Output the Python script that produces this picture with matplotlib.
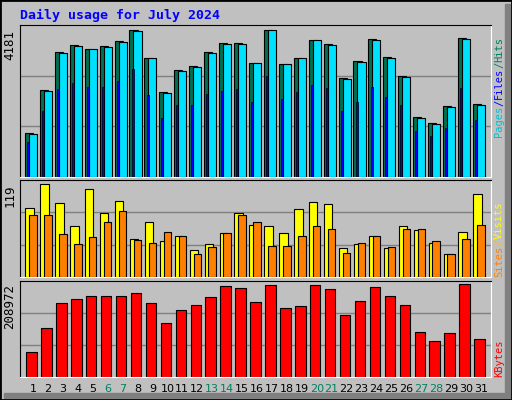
import matplotlib
matplotlib.use("Agg")
import matplotlib.pyplot as plt
import numpy as np

days = np.arange(1, 32)
hits = [1258, 2478, 3557, 3765, 3642, 3727, 3869, 4181, 3387, 2422, 3046, 3159, 3557, 3812, 3812, 3245,
        4181, 3216, 3387, 3897, 3784, 2819, 3301, 3926, 3415, 2876, 1712, 1542, 2024, 3954, 2081]
files = [1230, 2450, 3530, 3735, 3642, 3700, 3840, 4150, 3387, 2395, 3020, 3130, 3530, 3785, 3785, 3245,
         4181, 3216, 3387, 3897, 3755, 2790, 3275, 3897, 3390, 2850, 1685, 1515, 1996, 3925, 2055]
pages = [1003, 1882, 2507, 2677, 2563, 2563, 2734, 3074, 2336, 1684, 2053, 2053, 2365, 2450, 2507, 2138,
         2876, 2223, 2422, 2620, 2535, 1882, 2138, 2563, 2280, 2053, 1315, 1173, 1400, 2535, 1627]
sites = [89, 119, 95, 66, 113, 82, 97, 49, 70, 46, 52, 35, 42, 56, 82, 67,
         66, 57, 87, 96, 93, 37, 42, 52, 37, 66, 60, 44, 30, 58, 106]
visits = [80, 79, 55, 42, 51, 71, 84, 47, 44, 58, 53, 29, 39, 57, 80, 70,
          40, 40, 52, 66, 62, 31, 43, 53, 39, 62, 62, 46, 29, 49, 67]
kbytes = [55675, 110586, 167788, 176940, 183804, 183804, 183804, 190668, 167788, 122026, 151770,
          163213, 181516, 204396, 199820, 170076, 206684, 156346, 160922, 206684, 197532, 140330,
          172364, 202108, 183804, 163213, 101435, 80843, 99147, 208972, 85419]
weekend = [6, 7, 13, 14, 20, 21, 27, 28]

W, H = 512, 400
BG = "#C0C0C0"
MONO = "DejaVu Sans Mono"
fig = plt.figure(figsize=(W / 100, H / 100), dpi=100, facecolor=BG)
# bevelled frame
fig.patches.append(plt.Rectangle((505 / W, 4 / H), 5 / W, 392 / H, transform=fig.transFigure,
                                 color="#808080"))
fig.patches.append(plt.Rectangle((4 / W, 2 / H), 506 / W, 5 / H, transform=fig.transFigure,
                                 color="#808080"))
fig.patches.append(plt.Rectangle((0, 0), 1, 1, transform=fig.transFigure, fill=False,
                                 edgecolor="black", linewidth=2))


def panel(top, bottom):
    ax = fig.add_axes([20 / W, 1 - bottom / H, 471 / W, (bottom - top) / H])
    ax.set_facecolor(BG)
    ax.set_xlim(0.13, 31.67)
    ax.set_xticks([])
    ax.set_yticks([])
    for s in ("left", "top"):
        ax.spines[s].set_color("black")
    for s in ("right", "bottom"):
        ax.spines[s].set_color("white")
    return ax


def grid(ax, top):
    ax.set_ylim(0, top)
    for f in (1 / 3, 2 / 3):
        ax.axhline(top * f, color="#808080", lw=1, zorder=0)


# top: hits / files / pages
ax1 = panel(25, 177)
grid(ax1, max(hits) * 1.035)
ax1.bar(days - 0.27, hits, 0.54, color="#007050", edgecolor="black", lw=0.8, zorder=2)
ax1.bar(days, files, 0.54, color="#00E0FF", edgecolor="black", lw=0.8, zorder=3)
ax1.bar(days - 0.33, pages, 0.13, color="#0000FF", edgecolor="black", lw=0.5, zorder=4)
ax1.text(-0.55, max(hits), str(max(hits)), rotation=90, ha="center", va="top", fontsize=9,
         family=MONO, clip_on=False)

# middle: sites / visits
ax2 = panel(180, 277)
grid(ax2, max(sites) * 1.045)
ax2.bar(days - 0.23, sites, 0.56, color="#FFFF00", edgecolor="black", lw=0.8, zorder=2)
ax2.bar(days, visits, 0.5, color="#FF8000", edgecolor="black", lw=0.8, zorder=3)
ax2.text(-0.55, max(sites), str(max(sites)), rotation=90, ha="center", va="top", fontsize=9,
         family=MONO, clip_on=False)

# bottom: kbytes
ax3 = panel(281, 377)
grid(ax3, max(kbytes) * 1.037)
ax3.bar(days - 0.1, kbytes, 0.7, color="#FF0000", edgecolor="black", lw=0.8, zorder=2)
ax3.text(-0.55, max(kbytes), str(max(kbytes)), rotation=90, ha="center", va="top", fontsize=9,
         family=MONO, clip_on=False)

for d in days:
    ax3.text(d, -0.12, str(d), transform=ax3.get_xaxis_transform(), ha="center", va="center",
             fontsize=8, family="DejaVu Sans", color="#008060" if d in weekend else "black")

fig.text(20 / W, 1 - 15 / H, "Daily usage for July 2024", color="#0000FF", fontsize=9.5,
         fontweight="bold", family=MONO, va="center")

SFS = 7.5
CH = 0.602 * SFS * 100 / 72


def side(parts, y_bottom):
    y = y_bottom
    for txt, col in parts:
        fig.text(499 / W, 1 - y / H, txt, color=col, rotation=90, fontsize=SFS, family=MONO,
                 ha="center", va="bottom")
        y -= len(txt) * CH


side([("Pages", "#00C0D0"), ("/", "#0000FF"), ("Files", "#0000FF"), ("/", "#008060"),
      ("Hits", "#008060")], 137)
side([("Sites", "#FF8000"), ("/", "#FFC000"), ("Visits", "#FFFF00")], 277)
side([("KBytes", "#FF0000")], 377)

fig.savefig("out.png", dpi=100, facecolor=BG)
